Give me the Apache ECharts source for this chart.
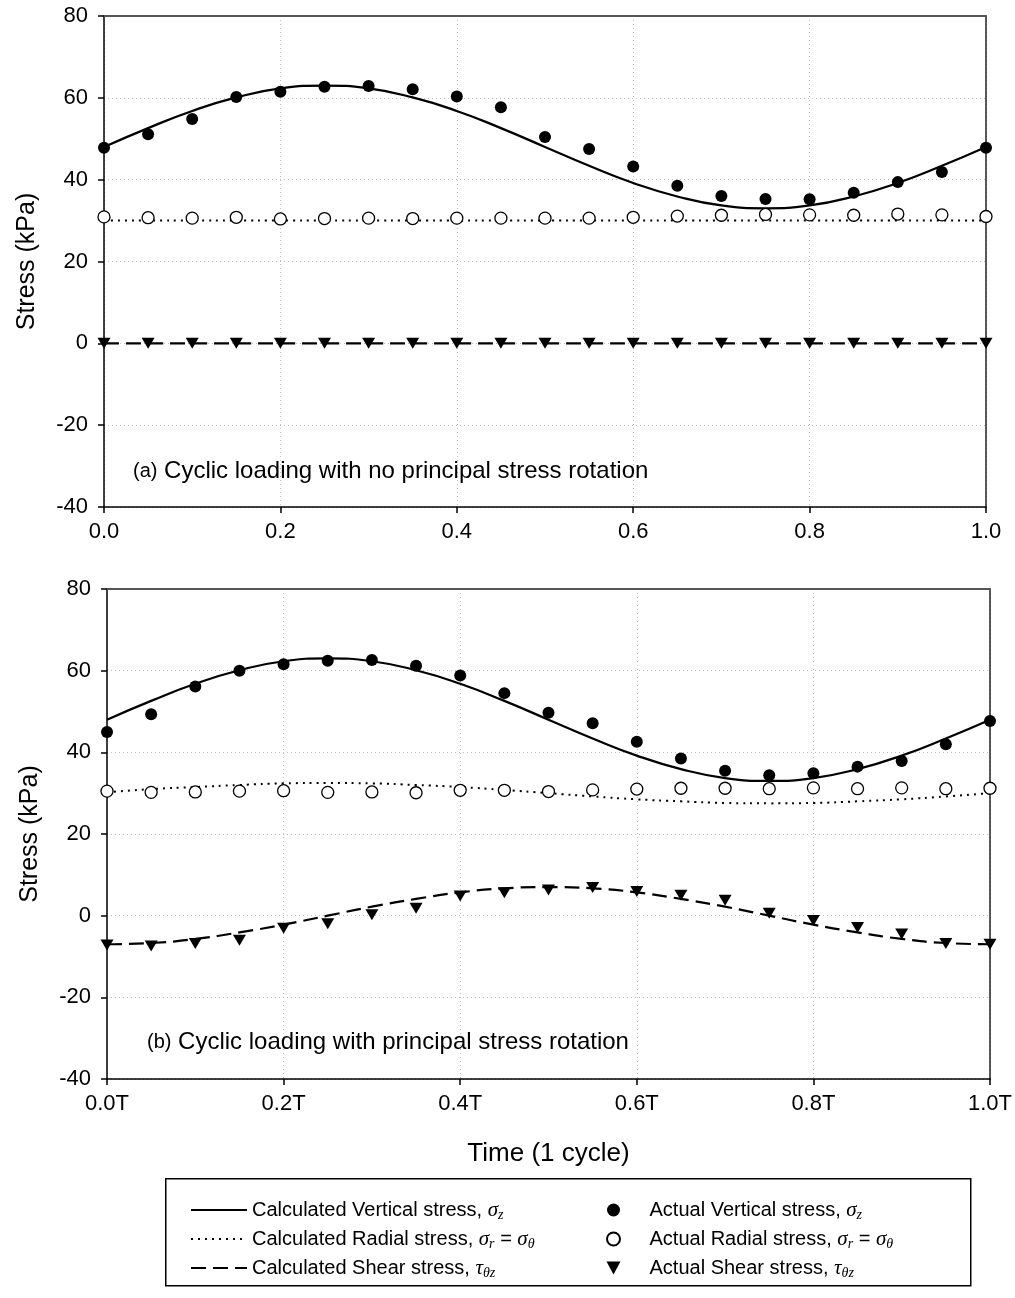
<!DOCTYPE html>
<html>
<head>
<meta charset="utf-8">
<script src="https://cdn.jsdelivr.net/npm/echarts@6/dist/echarts.min.js"></script>
<style>
  html, body { margin: 0; padding: 0; background: #fff; }
  #chart { width: 1015px; height: 1298px; }
</style>
</head>
<body>
<div id="chart"></div>
<script>
// Time within one loading cycle (fraction of period T)
const time = [0, 0.05, 0.1, 0.15, 0.2, 0.25, 0.3, 0.35, 0.4, 0.45, 0.5, 0.55, 0.6, 0.65, 0.7, 0.75, 0.8, 0.85, 0.9, 0.95, 1.0];

// Axis tick labels
const tickLabelsA = ['0.0', '0.2', '0.4', '0.6', '0.8', '1.0'];
const tickLabelsB = ['0.0T', '0.2T', '0.4T', '0.6T', '0.8T', '1.0T'];

// (a) no principal stress rotation
const calcVerticalA = [48.0, 52.6, 56.8, 60.1, 62.3, 63.0, 62.3, 60.1, 56.8, 52.6, 48.0, 43.4, 39.2, 35.9, 33.7, 33.0, 33.7, 35.9, 39.2, 43.4, 48.0];
const calcRadialA   = [30, 30, 30, 30, 30, 30, 30, 30, 30, 30, 30, 30, 30, 30, 30, 30, 30, 30, 30, 30, 30];
const calcShearA    = [0, 0, 0, 0, 0, 0, 0, 0, 0, 0, 0, 0, 0, 0, 0, 0, 0, 0, 0, 0, 0];
const actVerticalA  = [47.8, 51.1, 54.8, 60.2, 61.5, 62.7, 62.9, 62.1, 60.3, 57.7, 50.4, 47.5, 43.2, 38.5, 36.0, 35.3, 35.2, 36.8, 39.4, 41.9, 47.8];
const actRadialA    = [30.9, 30.7, 30.6, 30.8, 30.4, 30.5, 30.6, 30.5, 30.6, 30.6, 30.6, 30.6, 30.8, 31.1, 31.3, 31.5, 31.4, 31.3, 31.6, 31.4, 31.0];
const actShearA     = [0, 0, 0, 0, 0, 0, 0, 0, 0, 0, 0, 0, 0, 0, 0, 0, 0, 0, 0, 0, 0];

// (b) with principal stress rotation
const calcVerticalB = [48.0, 52.6, 56.8, 60.1, 62.3, 63.0, 62.3, 60.1, 56.8, 52.6, 48.0, 43.4, 39.2, 35.9, 33.7, 33.0, 33.7, 35.9, 39.2, 43.4, 48.0];
const calcRadialB   = [30.2, 31.0, 31.5, 32.0, 32.4, 32.5, 32.4, 32.0, 31.5, 30.8, 30.0, 29.2, 28.5, 28.0, 27.6, 27.5, 27.6, 28.0, 28.5, 29.2, 30.0];
const calcShearB    = [-7.0, -6.7, -5.7, -4.1, -2.2, 0.0, 2.2, 4.1, 5.7, 6.7, 7.0, 6.7, 5.7, 4.1, 2.2, 0.0, -2.2, -4.1, -5.7, -6.7, -7.0];
const actVerticalB  = [45.0, 49.3, 56.1, 60.0, 61.6, 62.4, 62.6, 61.2, 58.8, 54.5, 49.7, 47.1, 42.6, 38.5, 35.5, 34.4, 34.9, 36.5, 37.9, 42.0, 47.7];
const actRadialB    = [30.5, 30.2, 30.3, 30.5, 30.6, 30.2, 30.3, 30.1, 30.7, 30.7, 30.4, 30.8, 31.0, 31.2, 31.2, 31.1, 31.3, 31.1, 31.3, 31.1, 31.2];
const actShearB     = [-7.2, -7.4, -6.8, -6.0, -3.1, -2.0, 0.2, 1.8, 4.8, 5.6, 6.3, 6.9, 5.9, 5.0, 3.8, 0.6, -1.2, -2.9, -4.5, -6.8, -7.0];

// Series names shown in the legend
const N_CALC_V = 'Calculated Vertical stress, σz';
const N_CALC_R = 'Calculated Radial stress, σr = σθ';
const N_CALC_S = 'Calculated Shear stress, τθz';
const N_ACT_V  = 'Actual Vertical stress, σz';
const N_ACT_R  = 'Actual Radial stress, σr = σθ';
const N_ACT_S  = 'Actual Shear stress, τθz';

// Rich-text versions with italic Greek symbols and subscripts
const richNames = {};
richNames[N_CALC_V] = 'Calculated Vertical stress, {g|σ}{s|z}';
richNames[N_CALC_R] = 'Calculated Radial stress, {g|σ}{s|r} = {g|σ}{s|θ}';
richNames[N_CALC_S] = 'Calculated Shear stress, {g|τ}{s|θz}';
richNames[N_ACT_V]  = 'Actual Vertical stress, {g|σ}{s|z}';
richNames[N_ACT_R]  = 'Actual Radial stress, {g|σ}{s|r} = {g|σ}{s|θ}';
richNames[N_ACT_S]  = 'Actual Shear stress, {g|τ}{s|θz}';

const FONT = '"Liberation Sans", Arial, Helvetica, sans-serif';
const SERIF = '"Liberation Serif", "DejaVu Serif", serif';

const pairs = (ys) => time.map((t, i) => [t, ys[i]]);

const gridDots = { show: true, lineStyle: { color: '#bdbdbd', width: 1, type: [1, 3] } };

function xAxisFor(gridIndex, labels, withName) {
  const ax = {
    gridIndex: gridIndex, type: 'value', min: 0, max: 1, interval: 0.2, position: 'bottom',
    axisLine: { onZero: false, lineStyle: { color: '#000', width: 1.5 } },
    axisTick: { length: 6, lineStyle: { color: '#000', width: 1.5 } },
    axisLabel: {
      color: '#000', fontFamily: FONT, fontSize: 22, margin: 14,
      formatter: (v) => labels[Math.round(v / 0.2)]
    },
    splitLine: gridDots
  };
  if (withName) {
    ax.name = 'Time (1 cycle)';
    ax.nameLocation = 'middle';
    ax.nameGap = 62;
    ax.nameTextStyle = { color: '#000', fontFamily: FONT, fontSize: 26 };
  }
  return ax;
}

// Frame line along the top of a panel
function xFrameFor(gridIndex) {
  return {
    gridIndex: gridIndex, type: 'value', min: 0, max: 1, position: 'top',
    axisLine: { onZero: false, lineStyle: { color: '#555', width: 2 } },
    axisTick: { show: false }, axisLabel: { show: false }, splitLine: { show: false }
  };
}

function yAxisFor(gridIndex) {
  return {
    gridIndex: gridIndex, type: 'value', min: -40, max: 80, interval: 20, position: 'left',
    name: 'Stress (kPa)', nameLocation: 'middle', nameGap: 64,
    nameTextStyle: { color: '#000', fontFamily: FONT, fontSize: 25 },
    axisLine: { onZero: false, lineStyle: { color: '#000', width: 1.5 } },
    axisTick: { length: 6, lineStyle: { color: '#000', width: 1.5 } },
    axisLabel: { color: '#000', fontFamily: FONT, fontSize: 22, margin: 16 },
    splitLine: gridDots
  };
}

// Frame line along the right side of a panel
function yFrameFor(gridIndex) {
  return {
    gridIndex: gridIndex, type: 'value', min: -40, max: 80, position: 'right',
    axisLine: { onZero: false, lineStyle: { color: '#222', width: 1.5 } },
    axisTick: { show: false }, axisLabel: { show: false }, splitLine: { show: false }
  };
}

function panelSeries(idx, cv, cr, cs, av, ar, as) {
  const base = { xAxisIndex: idx * 2, yAxisIndex: idx * 2 };
  return [
    Object.assign({ name: N_CALC_V, type: 'line', data: pairs(cv), smooth: true, symbol: 'none', z: 2,
      lineStyle: { color: '#000', width: 2.2, type: 'solid' }, itemStyle: { color: '#000' } }, base),
    Object.assign({ name: N_CALC_R, type: 'line', data: pairs(cr), smooth: true, symbol: 'none', z: 2,
      lineStyle: { color: '#000', width: 2, type: [2, 5] }, itemStyle: { color: '#000' } }, base),
    Object.assign({ name: N_CALC_S, type: 'line', data: pairs(cs), smooth: true, symbol: 'none', z: 2,
      lineStyle: { color: '#000', width: 2.2, type: [15, 7] }, itemStyle: { color: '#000' } }, base),
    Object.assign({ name: N_ACT_V, type: 'scatter', data: pairs(av), symbol: 'circle', symbolSize: 12, z: 3,
      itemStyle: { color: '#000', opacity: 1 } }, base),
    Object.assign({ name: N_ACT_R, type: 'scatter', data: pairs(ar), symbol: 'circle', symbolSize: 12, z: 3,
      itemStyle: { color: '#fff', borderColor: '#000', borderWidth: 1.3, opacity: 1 } }, base),
    Object.assign({ name: N_ACT_S, type: 'scatter', data: pairs(as), symbol: 'triangle', symbolRotate: 180,
      symbolSize: [13, 11], z: 3, itemStyle: { color: '#000', opacity: 1 } }, base)
  ];
}

const legendText = {
  color: '#000', fontFamily: FONT, fontSize: 20, lineHeight: 24,
  rich: {
    g: { fontFamily: SERIF, fontStyle: 'italic', fontSize: 21, lineHeight: 24, color: '#000' },
    s: { fontFamily: SERIF, fontStyle: 'italic', fontSize: 14, lineHeight: 13, verticalAlign: 'bottom', color: '#000' }
  }
};

const chart = echarts.init(document.getElementById('chart'), null, { renderer: 'canvas' });

chart.setOption({
  backgroundColor: '#fff',
  animation: false,
  grid: [
    { left: 104, top: 16, width: 882, height: 491 },
    { left: 107, top: 589, width: 883, height: 490 }
  ],
  xAxis: [xAxisFor(0, tickLabelsA, false), xFrameFor(0), xAxisFor(1, tickLabelsB, true), xFrameFor(1)],
  yAxis: [yAxisFor(0), yFrameFor(0), yAxisFor(1), yFrameFor(1)],
  legend: [
    {
      orient: 'vertical', left: 190, top: 1198, padding: 0, itemGap: 5,
      itemWidth: 56, itemHeight: 14, selectedMode: false,
      itemStyle: { opacity: 0 },
      data: [N_CALC_V, N_CALC_R, N_CALC_S],
      formatter: (n) => richNames[n], textStyle: legendText
    },
    {
      orient: 'vertical', left: 606, top: 1198, padding: 0, itemGap: 5,
      itemWidth: 14, itemHeight: 13, selectedMode: false,
      data: [
        { name: N_ACT_V },
        { name: N_ACT_R },
        { name: N_ACT_S, icon: 'path://M0,0 L12,0 L6,11 Z' }
      ],
      formatter: (n) => richNames[n],
      textStyle: Object.assign({}, legendText, { padding: [0, 0, 0, 24] })
    }
  ],
  graphic: [
    {
      type: 'rect', left: 165, top: 1178, z: 0,
      shape: { width: 805, height: 107 },
      style: { fill: 'transparent', stroke: '#000', lineWidth: 1.5 }
    },
    {
      type: 'text', left: 133, top: 459, z: 10,
      style: {
        text: '{a|(a)} Cyclic loading with no principal stress rotation',
        fill: '#000', font: '24px ' + FONT,
        rich: { a: { fontSize: 20, fontFamily: FONT, fill: '#000' } }
      }
    },
    {
      type: 'text', left: 147, top: 1030, z: 10,
      style: {
        text: '{a|(b)} Cyclic loading with principal stress rotation',
        fill: '#000', font: '24px ' + FONT,
        rich: { a: { fontSize: 20, fontFamily: FONT, fill: '#000' } }
      }
    }
  ],
  series: [].concat(
    panelSeries(0, calcVerticalA, calcRadialA, calcShearA, actVerticalA, actRadialA, actShearA),
    panelSeries(1, calcVerticalB, calcRadialB, calcShearB, actVerticalB, actRadialB, actShearB)
  )
});
</script>
</body>
</html>
